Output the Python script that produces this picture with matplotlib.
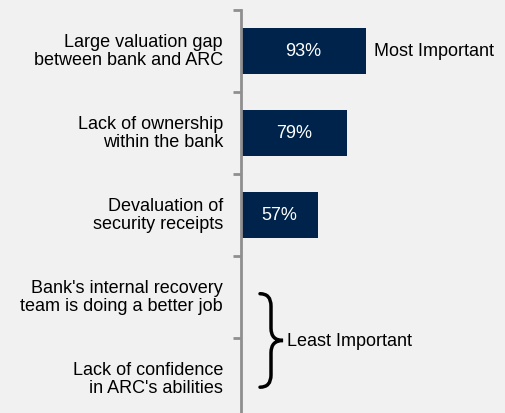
import matplotlib.pyplot as plt
from matplotlib.path import Path
from matplotlib.patches import PathPatch

plt.rcParams['font.family'] = ['Liberation Sans', 'DejaVu Sans']

# reasons banks hesitate to sell to ARCs, share of respondents
reasons = ["Large valuation gap\nbetween bank and ARC",
           "Lack of ownership\nwithin the bank",
           "Devaluation of\nsecurity receipts",
           "Bank's internal recovery\nteam is doing a better job",
           "Lack of confidence\nin ARC's abilities"]
shares = [93, 79, 57]
share_labels = ["93%", "79%", "57%"]

navy = '#00234b'
bg = '#f1f1f1'
grey = '#8f8f8f'

fig = plt.figure(figsize=(5.05, 4.14), dpi=100, facecolor=bg)
# axes spans from the spine (x=241px) to the right edge, top at 11px
ax = fig.add_axes([241 / 505, 0, 1 - 241 / 505, (414 - 11) / 414])
ax.set_facecolor(bg)

px_per_pct = 1.344

ypos = list(range(len(shares)))
bars = ax.barh(ypos, shares, height=0.55, color=navy)
for y, v, lab in zip(ypos, shares, share_labels):
    ax.text(v / 2, y, lab, color='white', fontsize=13, ha='center', va='center')

ax.text(shares[0] + 6, 0, "Most Important", fontsize=13, ha='left', va='center')

# spine and boundary ticks
for s in ['top', 'right', 'bottom']:
    ax.spines[s].set_visible(False)
ax.spines['left'].set_color(grey)
ax.spines['left'].set_linewidth(2)
ax.set_xticks([])
ax.set_yticks([i - 0.5 for i in range(len(reasons) + 1)])
ax.set_yticklabels([])
ax.tick_params(axis='y', which='major', length=6, width=2, color=grey)
# labels sit a touch above the category centres
ax.set_yticks([i - 0.035 for i in range(len(reasons))], minor=True)
ax.set_yticklabels(reasons, minor=True, fontsize=13, linespacing=1.07)
ax.tick_params(axis='y', which='minor', length=0, pad=13)

# limits last, since set_yticks widens the view
ax.set_xlim(0, (505 - 241) / px_per_pct)
ax.set_ylim(-0.5 + 403 / 82, -0.5)

# curly brace grouping the last two reasons
x0, xm, xt = 19 / px_per_pct, 30 / px_per_pct, 42 / px_per_pct
yc, h, d = 3.53, 0.57, 0.15
top, bot = yc - h, yc + h
verts = [(x0, top), (xm, top), (xm, top + d),
         (xm, yc - d), (xm, yc), (xt, yc),
         (xm, yc), (xm, yc + d),
         (xm, bot - d), (xm, bot), (x0, bot)]
codes = [Path.MOVETO, Path.CURVE3, Path.CURVE3,
         Path.LINETO, Path.CURVE3, Path.CURVE3,
         Path.CURVE3, Path.CURVE3,
         Path.LINETO, Path.CURVE3, Path.CURVE3]
ax.add_patch(PathPatch(Path(verts, codes), fill=False, lw=2.5,
                       edgecolor='black', capstyle='round', clip_on=False))
ax.text(xt + 4 / px_per_pct, yc, "Least Important", fontsize=13, ha='left', va='center')

fig.savefig('out.png', dpi=100, facecolor=bg)
